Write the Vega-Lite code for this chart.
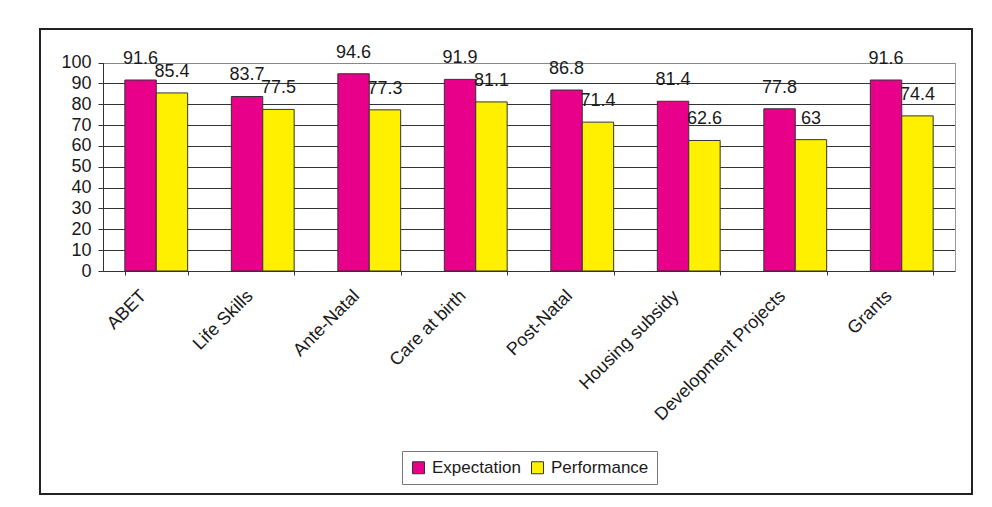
{
  "$schema": "https://vega.github.io/schema/vega-lite/v6.json",
  "width": 932,
  "height": 465,
  "autosize": {"type": "none"},
  "padding": {"left": 40, "top": 29, "right": 20, "bottom": 13},
  "background": "white",
  "config": {
    "font": "Liberation Sans",
    "view": {"stroke": "#222", "strokeWidth": 2, "fill": "white"}
  },
  "data": {
    "values": [
      {"program": "ABET", "series": "Expectation", "value": 91.6},
      {"program": "ABET", "series": "Performance", "value": 85.4},
      {"program": "Life Skills", "series": "Expectation", "value": 83.7},
      {"program": "Life Skills", "series": "Performance", "value": 77.5},
      {"program": "Ante-Natal", "series": "Expectation", "value": 94.6},
      {"program": "Ante-Natal", "series": "Performance", "value": 77.3},
      {"program": "Care at birth", "series": "Expectation", "value": 91.9},
      {"program": "Care at birth", "series": "Performance", "value": 81.1},
      {"program": "Post-Natal", "series": "Expectation", "value": 86.8},
      {"program": "Post-Natal", "series": "Performance", "value": 71.4},
      {"program": "Housing subsidy", "series": "Expectation", "value": 81.4},
      {"program": "Housing subsidy", "series": "Performance", "value": 62.6},
      {"program": "Development Projects", "series": "Expectation", "value": 77.8},
      {"program": "Development Projects", "series": "Performance", "value": 63},
      {"program": "Grants", "series": "Expectation", "value": 91.6},
      {"program": "Grants", "series": "Performance", "value": 74.4}
    ]
  },
  "encoding": {
    "x": {
      "field": "program",
      "type": "nominal",
      "sort": null,
      "scale": {"range": [63, 915], "paddingInner": 0.41, "paddingOuter": 0.205},
      "axis": {
        "orient": "bottom",
        "offset": -223,
        "title": null,
        "grid": false,
        "tickBand": "extent",
        "tickSize": 4,
        "tickColor": "#333",
        "domainColor": "#333",
        "labelAngle": -45,
        "labelAlign": "right",
        "labelBaseline": "middle",
        "labelFontSize": 18,
        "labelColor": "#1a1a1a",
        "labelPadding": 18,
        "labelOffset": -13,
        "labelLimit": 0
      }
    },
    "xOffset": {"field": "series", "sort": ["Expectation", "Performance"]}
  },
  "layer": [
    {
      "mark": {"type": "bar", "stroke": "#333", "strokeWidth": 1},
      "encoding": {
        "y": {
          "field": "value",
          "type": "quantitative",
          "scale": {"domain": [0, 100], "range": [242, 33.5], "nice": false},
          "axis": {
            "orient": "left",
            "offset": -63,
            "title": null,
            "values": [0, 10, 20, 30, 40, 50, 60, 70, 80, 90, 100],
            "grid": true,
            "gridColor": {"condition": {"test": "datum.value === 100", "value": "#888"}, "value": "#333"},
            "gridWidth": 1,
            "domainColor": "#333",
            "tickColor": "#333",
            "tickSize": 5,
            "labelFontSize": 18,
            "labelColor": "#1a1a1a",
            "labelPadding": 7
          }
        },
        "color": {
          "field": "series",
          "type": "nominal",
          "scale": {"domain": ["Expectation", "Performance"], "range": ["#E8008A", "#FFF000"]},
          "legend": {
            "orient": "none",
            "legendX": 362,
            "legendY": 422,
            "direction": "horizontal",
            "title": null,
            "strokeColor": "#777",
            "fillColor": "white",
            "padding": 8,
            "symbolType": "square",
            "symbolSize": 144,
            "symbolStrokeColor": "#333",
            "symbolStrokeWidth": 1,
            "symbolOpacity": 1,
            "labelFontSize": 17,
            "labelColor": "#1a1a1a",
            "labelOffset": 5,
            "columnPadding": 8
          }
        }
      }
    },
    {
      "mark": {"type": "text", "baseline": "alphabetic", "dy": -16, "fontSize": 18, "color": "#1a1a1a"},
      "encoding": {
        "y": {
          "field": "value",
          "type": "quantitative",
          "axis": {
            "orient": "right",
            "offset": -17,
            "title": null,
            "grid": false,
            "ticks": false,
            "labels": false,
            "domainColor": "#999",
            "domainWidth": 1
          }
        },
        "text": {"field": "value", "type": "quantitative"}
      }
    }
  ],
  "resolve": {"axis": {"y": "independent"}}
}
